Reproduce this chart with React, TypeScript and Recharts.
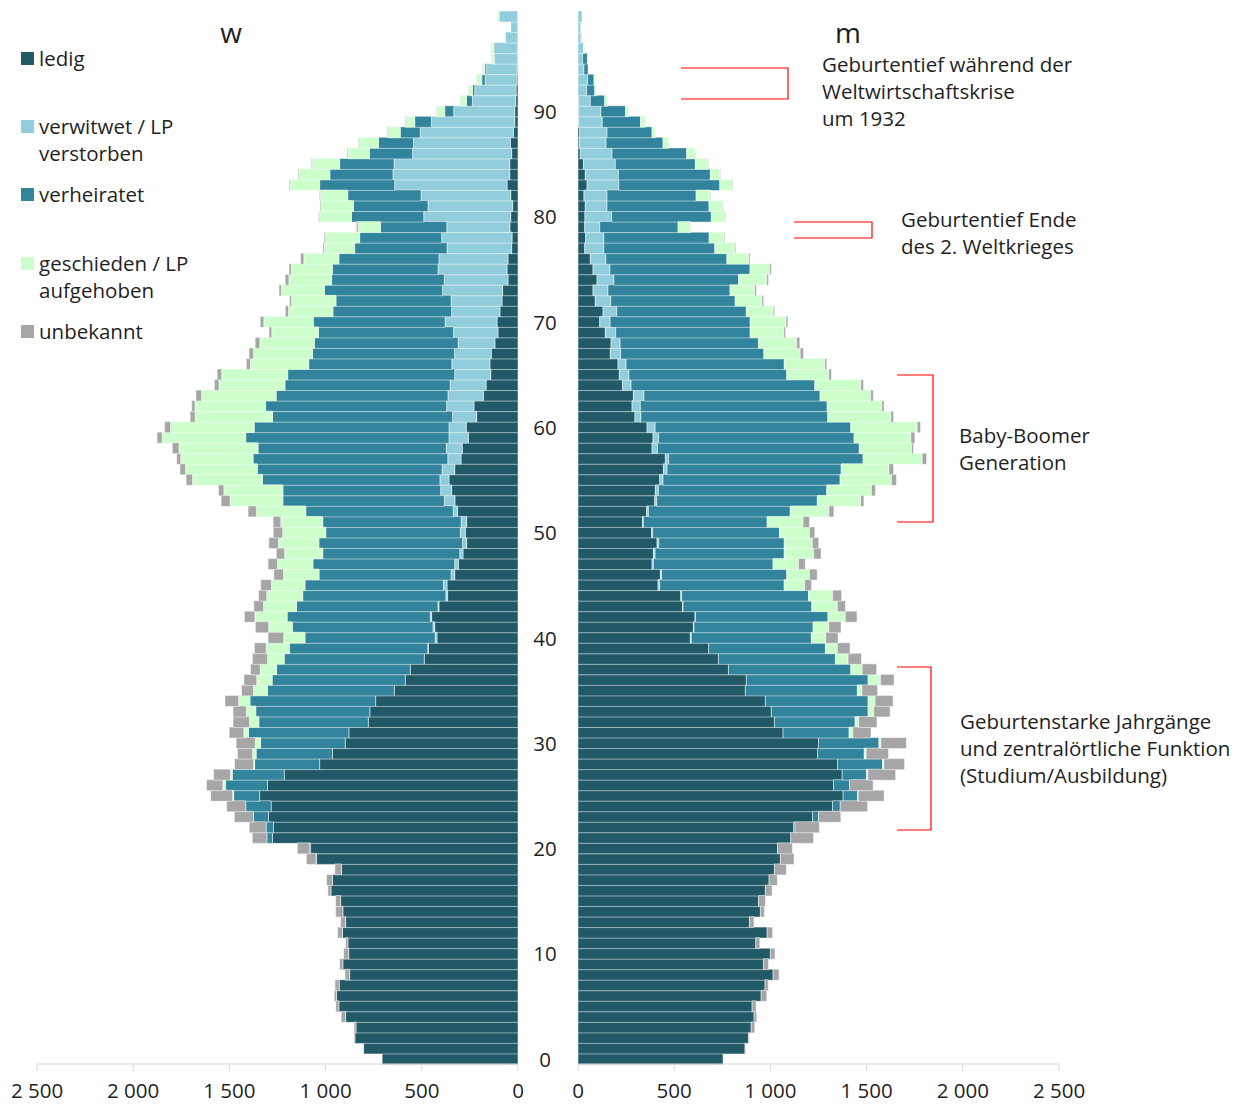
import React from 'react';
import { BarChart, Bar, XAxis, YAxis } from 'recharts';

// Ages 0..99 (category labels)
const AGES: number[] = [
  0,1,2,3,4,5,6,7,8,9,10,11,12,13,14,15,16,17,18,19,
  20,21,22,23,24,25,26,27,28,29,30,31,32,33,34,35,36,37,38,39,
  40,41,42,43,44,45,46,47,48,49,50,51,52,53,54,55,56,57,58,59,
  60,61,62,63,64,65,66,67,68,69,70,71,72,73,74,75,76,77,78,79,
  80,81,82,83,84,85,86,87,88,89,90,91,92,93,94,95,96,97,98,99,
];

const X_TICKS = [0, 500, 1000, 1500, 2000, 2500];

// ---- Frauen (w) ----
const W_LEDIG = [
  706,802,848,842,896,931,943,929,875,910,880,884,912,896,910,922,972,964,917,1047,
  1078,1276,1271,1297,1283,1343,1302,1215,1031,964,898,879,778,770,740,643,586,560,487,466,
  421,433,449,411,366,369,329,310,286,267,274,267,314,328,345,359,329,296,290,258,
  269,215,229,180,166,142,146,139,120,104,109,94,83,80,52,57,52,33,31,42,
  38,28,38,57,43,43,33,40,23,17,17,12,10,5,4,3,3,4,2,3,
];
const W_VERWITWET = [
  0,0,0,0,0,0,0,0,0,0,0,0,0,0,0,0,0,0,0,0,
  0,0,0,0,0,0,0,0,0,0,0,0,0,0,0,0,0,0,0,3,
  10,9,7,5,9,19,19,19,17,21,26,29,23,55,57,47,66,69,83,101,
  90,125,142,184,187,187,198,191,191,231,270,251,265,312,331,359,359,336,366,328,
  452,440,466,584,607,601,515,503,485,433,317,225,215,166,159,121,123,61,35,95,
];
const W_VERHEIRATET = [
  0,0,0,0,0,0,0,0,0,0,0,0,0,0,0,0,0,0,0,3,
  7,29,38,78,132,135,218,270,338,397,440,522,569,593,653,659,692,695,728,719,
  676,731,744,735,744,719,686,737,712,747,699,719,766,839,820,922,960,1012,978,1056,
  1012,936,941,893,858,868,744,738,747,702,685,617,598,614,586,549,520,480,426,345,
  376,387,381,390,328,283,224,182,104,87,47,31,12,17,9,0,0,0,0,0,
];
const W_GESCHIEDEN = [
  0,0,0,0,0,0,0,0,0,0,0,0,0,0,0,0,0,0,0,0,
  0,0,0,0,0,5,14,10,5,19,28,24,49,49,59,73,80,85,87,121,
  111,123,168,172,187,175,185,184,198,210,224,218,257,274,307,364,373,376,411,435,
  435,402,367,388,343,343,303,307,284,243,257,231,231,224,222,213,182,158,177,116,
  166,168,142,153,159,142,111,99,62,43,40,31,17,23,9,10,10,0,0,9,
];
const W_UNBEKANNT = [
  0,0,5,10,23,16,12,22,24,17,26,12,26,26,38,26,16,31,35,50,
  62,76,88,99,99,114,85,87,99,78,99,76,85,69,71,62,66,50,78,61,
  81,69,54,50,42,55,50,49,43,50,49,40,43,47,28,33,29,21,35,26,
  31,26,17,29,24,24,21,23,24,14,19,16,10,12,19,12,17,7,7,9,
  5,5,5,5,5,5,5,5,5,5,3,3,3,3,3,3,3,0,0,0,
];

// ---- Männer (m) ----
const M_LEDIG = [
  754,868,886,900,915,905,952,972,1014,964,1000,924,983,891,948,938,974,993,1021,1052,
  1037,1106,1121,1219,1323,1378,1328,1373,1349,1245,1250,1066,1021,1005,974,870,875,782,730,679,
  584,600,608,543,534,416,428,385,392,411,383,335,357,399,402,425,444,454,385,390,
  359,296,281,288,231,215,208,168,172,142,113,130,90,78,99,78,64,35,40,35,
  36,38,31,47,38,29,12,7,9,3,3,2,0,0,0,0,0,0,0,0,
];
const M_VERWITWET = [
  0,0,0,0,0,0,0,0,0,0,0,0,0,0,0,0,0,0,0,0,
  0,0,0,0,0,0,0,0,0,0,0,0,0,0,0,0,0,0,0,0,
  5,3,3,3,5,9,7,7,9,9,5,5,9,10,16,17,19,17,28,29,
  42,31,43,55,45,50,42,54,47,54,54,71,80,78,88,88,81,99,94,78,
  139,113,120,165,172,165,165,139,142,123,116,62,45,50,31,24,29,14,14,21,
];
const M_VERHEIRATET = [
  0,0,0,0,0,0,0,0,0,0,0,0,0,0,0,0,0,0,0,0,
  0,0,7,31,40,75,83,127,234,243,314,343,419,503,534,582,633,636,608,607,
  624,619,688,669,659,647,650,622,671,652,659,643,737,835,875,920,905,1011,1049,1016,
  1017,971,971,915,955,820,822,744,719,699,728,674,647,634,648,728,629,577,548,407,
  518,530,463,525,478,416,388,296,234,199,128,75,42,33,21,24,0,3,0,0,
];
const M_GESCHIEDEN = [
  0,0,0,0,0,0,0,0,0,0,0,0,0,0,0,0,0,0,0,0,
  0,0,0,0,0,3,0,7,7,10,10,19,19,29,36,24,64,59,66,62,
  75,81,90,133,125,106,118,132,153,146,156,187,201,225,232,267,248,307,272,295,
  345,328,284,263,239,218,211,189,198,175,187,140,139,128,146,102,113,104,76,64,
  73,71,73,61,50,66,47,29,17,24,16,16,9,7,0,0,5,0,0,0,
];
const M_UNBEKANNT = [
  0,3,5,19,14,21,29,17,31,26,24,21,29,24,21,36,35,43,62,71,
  78,118,127,116,142,135,123,144,107,116,133,95,95,85,94,81,71,75,69,66,
  64,64,61,42,47,36,40,35,38,33,28,33,26,17,21,26,24,23,10,21,
  17,14,12,14,14,14,10,17,17,9,9,7,9,9,9,9,7,5,5,2,
  3,3,3,5,3,3,0,0,0,0,0,0,0,0,0,0,0,0,0,0,
];

const SERIES = [
  { key: 'ledig', label: 'ledig', color: '#215967' },
  { key: 'verwitwet', label: 'verwitwet / LP verstorben', color: '#92cddc' },
  { key: 'verheiratet', label: 'verheiratet', color: '#31849b' },
  { key: 'geschieden', label: 'geschieden / LP aufgehoben', color: '#ccffcc' },
  { key: 'unbekannt', label: 'unbekannt', color: '#a6a6a6' },
];

const build = (l: number[], vw: number[], vh: number[], g: number[], u: number[]) =>
  AGES.map((age, i) => ({
    age,
    ledig: l[i],
    verwitwet: vw[i],
    verheiratet: vh[i],
    geschieden: g[i],
    unbekannt: u[i],
  }));

const dataW = build(W_LEDIG, W_VERWITWET, W_VERHEIRATET, W_GESCHIEDEN, W_UNBEKANNT);
const dataM = build(M_LEDIG, M_VERWITWET, M_VERHEIRATET, M_GESCHIEDEN, M_UNBEKANNT);

const FONT = '"Open Sans", "DejaVu Sans", sans-serif';
const TEXT = '#1f1f1f';
const AXIS = '#d9d9d9';
const FS = 20.5;

const fmt = (v: number) =>
  v >= 1000 ? `${Math.floor(v / 1000)} ${String(v % 1000).padStart(3, '0')}` : String(v);

const AgeTick = (props: any) => {
  const { y, payload } = props;
  return (
    <text x={27} y={y} textAnchor="middle" dominantBaseline="central" fontSize={FS} fill={TEXT} fontFamily={FONT}>
      {payload.value}
    </text>
  );
};

const H = 1104;

const bars = () =>
  SERIES.map((s) => (
    <Bar
      key={s.key}
      dataKey={s.key}
      stackId="a"
      fill={s.color}
      stroke="#ffffff"
      strokeOpacity={0.6}
      strokeWidth={0.8}
      isAnimationActive={false}
    />
  ));

const xTick = { fontSize: FS, fill: TEXT, fontFamily: FONT };

const annotations = [
  { x: 822, y: 51, lines: ['Geburtentief während der', 'Weltwirtschaftskrise', 'um 1932'] },
  { x: 901, y: 206, lines: ['Geburtentief Ende', 'des 2. Weltkrieges'] },
  { x: 959, y: 422, lines: ['Baby-Boomer', 'Generation'] },
  { x: 960, y: 708, lines: ['Geburtenstarke Jahrgänge', 'und zentralörtliche Funktion', '(Studium/Ausbildung)'] },
];

const legendRows = [
  { idx: 0, top: 45 },
  { idx: 1, top: 113 },
  { idx: 2, top: 181 },
  { idx: 3, top: 250 },
  { idx: 4, top: 318 },
];

export default function App() {
  return (
    <div
      style={{
        position: 'absolute',
        left: 0,
        top: 0,
        width: 1240,
        height: H,
        background: '#ffffff',
        fontFamily: FONT,
        color: TEXT,
        overflow: 'hidden',
      }}
    >
      <div style={{ position: 'absolute', left: 518, top: 0 }}>
        <BarChart
          width={722}
          height={H}
          data={dataM}
          layout="vertical"
          margin={{ top: 11, right: 181, bottom: 0, left: 0 }}
          barCategoryGap={0}
        >
          <XAxis
            type="number"
            domain={[0, 2500]}
            ticks={X_TICKS}
            allowDataOverflow
            tickFormatter={fmt}
            tick={xTick}
            stroke={AXIS}
            tickSize={7}
            tickMargin={12}
            height={40}
            interval={0}
          />
          <YAxis
            type="category"
            dataKey="age"
            reversed
            width={60}
            interval={9}
            axisLine={false}
            tickLine={false}
            tick={<AgeTick />}
          />
          {bars()}
        </BarChart>
      </div>

      <div style={{ position: 'absolute', left: 0, top: 0 }}>
        <BarChart
          width={540}
          height={H}
          data={dataW}
          layout="vertical"
          margin={{ top: 11, right: 22, bottom: 0, left: 37 }}
          barCategoryGap={0}
        >
          <XAxis
            type="number"
            domain={[0, 2500]}
            ticks={X_TICKS}
            reversed
            allowDataOverflow
            tickFormatter={fmt}
            tick={xTick}
            stroke={AXIS}
            tickSize={7}
            tickMargin={12}
            height={40}
            interval={0}
          />
          <YAxis type="category" dataKey="age" reversed hide />
          {bars()}
        </BarChart>
      </div>

      {/* Titles */}
      <div style={{ position: 'absolute', left: 211, top: 14, width: 40, textAlign: 'center', fontSize: 28, lineHeight: '36px' }}>w</div>
      <div style={{ position: 'absolute', left: 828, top: 14, width: 40, textAlign: 'center', fontSize: 28, lineHeight: '36px' }}>m</div>

      {/* Legend */}
      {legendRows.map((r) => {
        const s = SERIES[r.idx];
        const words = s.label.split(' / ');
        const lines = words.length > 1 ? [`${words[0]} / LP`, words[1].replace('LP ', '')] : [s.label];
        return (
          <div key={s.key} style={{ position: 'absolute', left: 21, top: r.top }}>
            <div style={{ position: 'absolute', left: 0, top: 7, width: 13, height: 13, background: s.color }} />
            <div style={{ position: 'absolute', left: 18, top: 0, fontSize: FS, lineHeight: '27px', whiteSpace: 'nowrap' }}>
              {lines.map((t, i) => (
                <div key={i}>{t}</div>
              ))}
            </div>
          </div>
        );
      })}

      {/* Annotation texts */}
      {annotations.map((a, i) => (
        <div key={i} style={{ position: 'absolute', left: a.x, top: a.y, fontSize: FS, lineHeight: '27px', whiteSpace: 'nowrap' }}>
          {a.lines.map((t, j) => (
            <div key={j}>{t}</div>
          ))}
        </div>
      ))}

      {/* Annotation brackets */}
      <svg width={1240} height={H} style={{ position: 'absolute', left: 0, top: 0, pointerEvents: 'none' }}>
        <g stroke="#ff0000" strokeWidth={1.2} fill="none">
          <polyline points="681,68 788,68 788,99 681,99" />
          <polyline points="794,222 872,222 872,238 794,238" />
          <polyline points="897,375 933,375 933,522 897,522" />
          <polyline points="897,667 931,667 931,830 897,830" />
        </g>
      </svg>
    </div>
  );
}
